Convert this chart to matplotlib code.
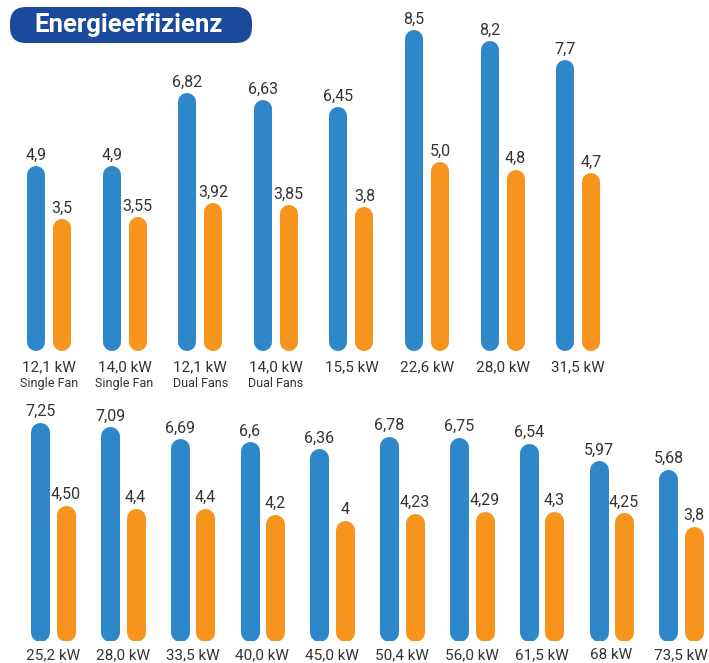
import matplotlib

matplotlib.use("Agg")
import matplotlib.pyplot as plt
from matplotlib.patches import FancyBboxPatch

# top row
top_labels = ["12,1 kW", "14,0 kW", "12,1 kW", "14,0 kW", "15,5 kW", "22,6 kW", "28,0 kW", "31,5 kW"]
top_sublabels = ["Single Fan", "Single Fan", "Dual Fans", "Dual Fans", "", "", "", ""]
top_blue = [4.9, 4.9, 6.82, 6.63, 6.45, 8.5, 8.2, 7.7]
top_orange = [3.5, 3.55, 3.92, 3.85, 3.8, 5.0, 4.8, 4.7]
top_blue_text = ["4,9", "4,9", "6,82", "6,63", "6,45", "8,5", "8,2", "7,7"]
top_orange_text = ["3,5", "3,55", "3,92", "3,85", "3,8", "5,0", "4,8", "4,7"]

# bottom row
bottom_labels = ["25,2 kW", "28,0 kW", "33,5 kW", "40,0 kW", "45,0 kW",
                 "50,4 kW", "56,0 kW", "61,5 kW", "68 kW", "73,5 kW"]
bottom_blue = [7.25, 7.09, 6.69, 6.6, 6.36, 6.78, 6.75, 6.54, 5.97, 5.68]
bottom_orange = [4.50, 4.4, 4.4, 4.2, 4.0, 4.23, 4.29, 4.3, 4.25, 3.8]
bottom_blue_text = ["7,25", "7,09", "6,69", "6,6", "6,36", "6,78", "6,75", "6,54", "5,97", "5,68"]
bottom_orange_text = ["4,50", "4,4", "4,4", "4,2", "4", "4,23", "4,29", "4,3", "4,25", "3,8"]

BLUE = "#2d87c9"
ORANGE = "#f7941e"
NAVY = "#1b4a9c"
TEXT = "#333333"

plt.rcParams["font.family"] = ["Roboto", "DejaVu Sans"]

W, H = 709, 663
fig = plt.figure(figsize=(W / 100, H / 100), dpi=100)
fig.patch.set_facecolor("white")


def px_axes(left, right, top, baseline):
    # axes placed in pixel coordinates of the final image
    return fig.add_axes([left / W, (H - baseline) / H, (right - left) / W, (baseline - top) / H])


def draw_row(ax, labels, blue, orange, blue_text, orange_text, offset, bar_px,
             label_gap, sublabels=None):
    ax.set_axis_off()
    lw = bar_px * 72 / fig.dpi
    y0 = ax.transData.transform((0, 0))[1]
    y1 = ax.transData.transform((0, 1))[1]
    r = (bar_px / 2) / (y1 - y0)
    for i in range(len(labels)):
        for dx, v, txt, color in ((-offset, blue[i], blue_text[i], BLUE),
                                  (offset, orange[i], orange_text[i], ORANGE)):
            ax.plot([i + dx, i + dx], [r, v - r], color=color, lw=lw,
                    solid_capstyle="round")
            ax.annotate(txt, (i + dx, v), xytext=(0, 4.5), textcoords="offset points",
                        ha="center", va="baseline", fontsize=11.5, color=TEXT)
        ax.annotate(labels[i], (i, 0), xytext=(0, -label_gap), textcoords="offset points",
                    ha="center", va="top", fontsize=11, color=TEXT, annotation_clip=False)
        if sublabels and sublabels[i]:
            ax.annotate(sublabels[i], (i, 0), xytext=(0, -label_gap - 12),
                        textcoords="offset points", ha="center", va="top",
                        fontsize=9, color=TEXT, annotation_clip=False)


# top row: group centres at 49 + 75.6*i px, baseline at 351 px, 37.8 px per unit
ax1 = px_axes(0, W, 20, 351)
ax1.set_xlim(-49 / 75.6, (W - 49) / 75.6)
ax1.set_ylim(0, (351 - 20) / 37.8)
draw_row(ax1, top_labels, top_blue, top_orange, top_blue_text, top_orange_text,
         offset=13 / 75.6, bar_px=18, label_gap=6.5, sublabels=top_sublabels)

# bottom row: group centres at 53 + 69.8*i px, baseline at 641 px, 30.2 px per unit
ax2 = px_axes(0, W, 380, 641)
ax2.set_xlim(-53 / 69.8, (W - 53) / 69.8)
ax2.set_ylim(0, (641 - 380) / 30.2)
draw_row(ax2, bottom_labels, bottom_blue, bottom_orange, bottom_blue_text,
         bottom_orange_text, offset=12.75 / 69.8, bar_px=19, label_gap=5)

# title badge
badge = FancyBboxPatch((10 / W, (H - 43) / H), 242 / W, 36 / H,
                       boxstyle=f"round,pad=0,rounding_size={16 / W}",
                       mutation_aspect=W / H, transform=fig.transFigure,
                       facecolor=NAVY, edgecolor="none")
fig.add_artist(badge)
fig.text(129 / W, (H - 25) / H, "Energieeffizienz", ha="center", va="center",
         fontsize=18.5, fontweight="bold", color="white")

fig.savefig("out.png", dpi=100)
